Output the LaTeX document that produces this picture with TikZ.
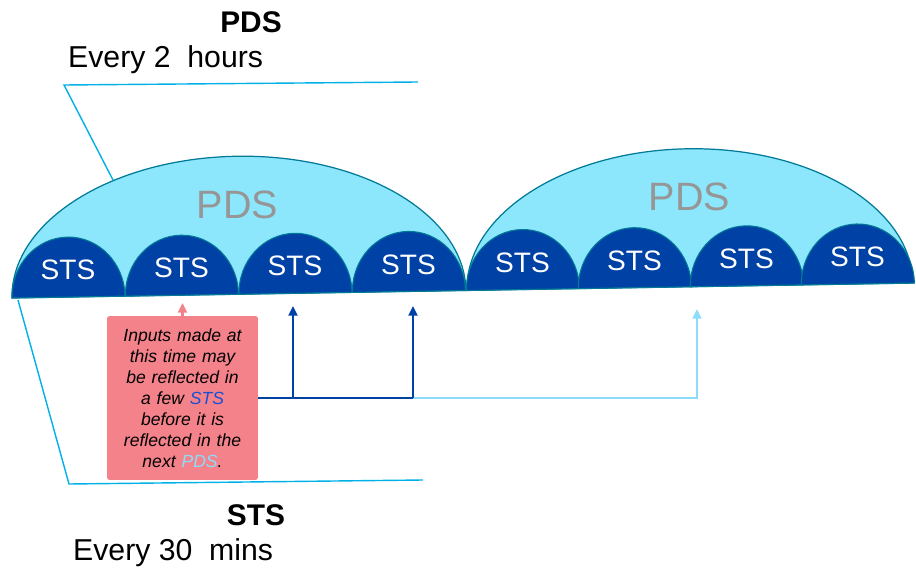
\documentclass[tikz,border=0pt]{standalone}
\usepackage{fontspec}
\setmainfont{Liberation Sans}
\usetikzlibrary{arrows.meta}
\definecolor{domecyan}{RGB}{140,230,252}
\definecolor{domeedge}{RGB}{0,122,150}
\definecolor{stsblue}{RGB}{0,65,165}
\definecolor{pdsgrey}{RGB}{150,150,150}
\definecolor{calloutcyan}{RGB}{0,176,230}
\definecolor{notepink}{RGB}{244,130,138}
\definecolor{pdslight}{RGB}{140,220,250}
\definecolor{ststext}{RGB}{25,80,210}
\tikzset{
    >={Triangle[length=5.5pt,width=5pt]},
    pdsdome/.style={draw=domeedge,fill=domecyan,line width=0.7pt},
    stsdome/.style={draw=domeedge,fill=stsblue,line width=0.6pt},
    stslabel/.style={text=white,font=\fontsize{16}{16}\selectfont},
    pdslabel/.style={text=pdsgrey,font=\fontsize{22.5}{22.5}\selectfont},
    title/.style={font=\fontsize{17}{17}\selectfont\bfseries},
    period/.style={anchor=west,font=\fontsize{17.2}{17.2}\selectfont},
    callout/.style={draw=calloutcyan,line width=0.8pt},
    notebox/.style={fill=notepink,rounded corners=1.5pt,minimum width=3.02cm,minimum height=3.28cm,
        text width=2.9cm,inner xsep=0.06cm,align=center,font=\fontsize{10}{12}\selectfont\itshape},
    inputarrow/.style={draw=notepink,line width=1.7pt},
    stsline/.style={draw=stsblue,line width=1.4pt},
    pdsline/.style={draw=pdslight,line width=1.4pt}
}

\begin{document}
\begin{tikzpicture}[x=0.02cm,y=0.02cm]
    \useasboundingbox (0,0) rectangle (916,572);
    \begin{scope}[rotate around={0.95:(12,274)}]
        \draw[pdsdome] (12,274) arc[start angle=180,end angle=0,x radius=227,y radius=138] -- cycle;
        \draw[pdsdome] (467,274) arc[start angle=180,end angle=0,x radius=223,y radius=138] -- cycle;
        \node[pdslabel] (pds1) at (239,363) {PDS};
        \node[pdslabel] (pds2) at (691,364) {PDS};
        \foreach \cx [count=\i] in {68.5,182,295.5,409,523,635,747,858} {
            \draw[stsdome] (\cx-56.5,274) arc[start angle=180,end angle=0,x radius=56.5,y radius=60] -- cycle;
            \node[stslabel] (sts\i) at (\cx,301) {STS};
        }
    \end{scope}

    \node[title] (pdstitle) at (251,550) {PDS};
    \node[period] (pdsperiod) at (62,512) {Every 2~~hours};
    \node[title] (ststitle) at (256,57) {STS};
    \node[period] (stsperiod) at (67,19) {Every 30~~mins};

    \coordinate (pdscorner) at (64,487);
    \coordinate (pdsend) at (418,490);
    \coordinate (pdstouch) at (113,392);
    \coordinate (ststouch) at (18,272);
    \coordinate (stscorner) at (69,88);
    \coordinate (stsend) at (423,92);
    \draw[callout] (pdsend) -- (pdscorner) -- (pdstouch);
    \draw[callout] (ststouch) -- (stscorner) -- (stsend);

    \node[notebox] (note) at (182.5,174) {Inputs made at\\this time may\\be reflected in\\a few \textcolor{ststext}{STS}\\before it is\\reflected in the\\next \textcolor{pdslight}{PDS}.};

    \coordinate (pinktip) at (182.5,269);
    \coordinate (hit1) at (293,266);
    \coordinate (hit2) at (413,266);
    \coordinate (hit3) at (697,263);
    \draw[inputarrow,->] (note.north) -- (pinktip);
    \draw[pdsline,->] (note.east -| hit2) -- (note.east -| hit3) -- (hit3);
    \draw[stsline] (note.east) -- (note.east -| hit2);
    \draw[stsline,->] (note.east -| hit1) -- (hit1);
    \draw[stsline,->] (note.east -| hit2) -- (hit2);
\end{tikzpicture}
\end{document}
